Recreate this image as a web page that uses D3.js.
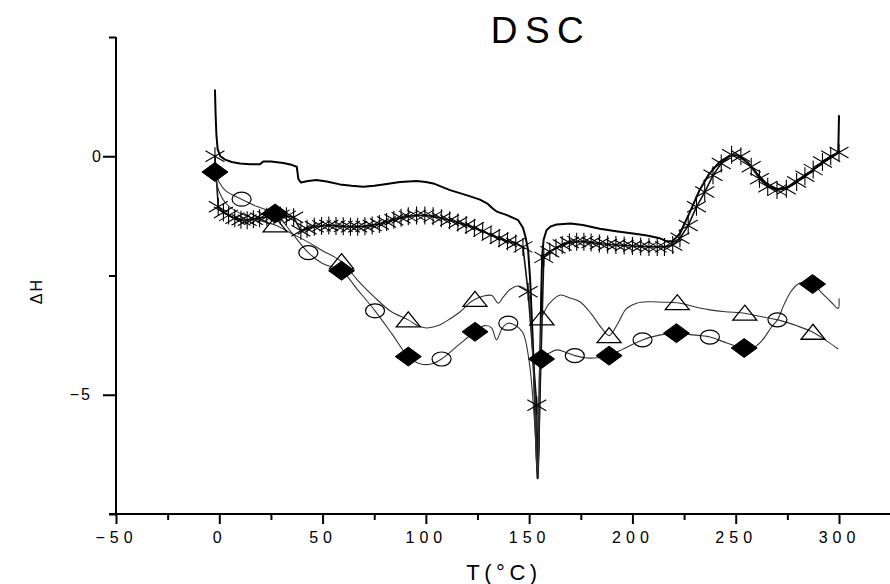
<!DOCTYPE html>
<html>
<head>
<meta charset="utf-8">
<script src="https://cdn.jsdelivr.net/npm/d3@7"></script>
<style>
  html, body { margin: 0; padding: 0; background: #fff; }
  svg { display: block; font-family: "Liberation Sans", Arial, sans-serif; }
</style>
</head>
<body>
<svg id="chart" width="890" height="584"></svg>
<script>
// ---- axis ticks ----
const xMajorTicks = [-50, 0, 50, 100, 150, 200, 250, 300];
const xMinorTicks = [-25, 25, 75, 125, 175, 225, 275, 325];
const yMajorTicks = [0, -5];
const yMinorTicks = [2.5, -2.5, -7.5];

// ---- plain DSC trace (no symbols) ----
const plainTrace = [
  [-2.1,1.4],[-1.8,0.9],[-1.4,0.45],[-0.8,0.15],[0.5,0.0],[2.8,-0.07],[6,-0.12],[10,-0.15],
  [15,-0.17],[19.7,-0.17],[21.3,-0.11],[25,-0.11],[31,-0.14],[35,-0.18],[37.5,-0.22],[38.3,-0.48],
  [39.5,-0.55],[43,-0.52],[47,-0.5],[52,-0.53],[58.4,-0.59],[64,-0.62],[69.7,-0.64],[75,-0.62],
  [79.4,-0.59],[87.5,-0.54],[95.5,-0.52],[100,-0.54],[103.6,-0.57],[111.7,-0.71],[120,-0.82],
  [126.2,-0.91],[130,-1.0],[132.5,-1.1],[134.3,-1.16],[139,-1.23],[144.7,-1.34],[147,-1.5],
  [148.3,-1.7],[149.5,-1.97],[150.5,-2.6],[151.7,-3.8],[152.8,-5.2],[153.6,-6.3],[154.1,-6.75],
  [154.6,-6.2],[155.2,-4.6],[155.8,-3.0],[156.3,-2.1],[157,-1.75],[158.4,-1.55],[160.5,-1.47],
  [163.3,-1.43],[170,-1.41],[176,-1.44],[184.2,-1.52],[192,-1.57],[200.3,-1.62],[207,-1.66],
  [213.3,-1.72],[216.5,-1.78],[219.5,-1.78],[223,-1.62],[227.8,-1.17],[232.6,-0.7],[237,-0.38],
  [242,-0.13],[247,0.01],[251,0.02],[256,-0.14],[260,-0.35],[265,-0.58],[270,-0.69],[275,-0.65],
  [280,-0.5],[286,-0.33],[292,-0.14],[296,-0.03],[299.6,0.07],[299.8,0.4],[300,0.86]
];

// ---- star series: symbols, plus the bottom of the melting dip ----
const starPoints = [
  [-2.1,0],[-0.5,-1.06],[2,-1.18],[4.5,-1.24],[7.5,-1.3],[10.5,-1.33],[13.5,-1.34],[16.5,-1.32],
  [19.5,-1.3],[23,-1.27],[26.5,-1.24],[29.5,-1.24],[32.5,-1.26],[36,-1.28],[39.5,-1.56],[42.5,-1.52],
  [46,-1.48],[49.5,-1.46],[53,-1.45],[56.5,-1.46],[60,-1.47],[63.5,-1.48],[67,-1.48],[70.5,-1.47],
  [74,-1.45],[77.5,-1.42],[81,-1.38],[84.5,-1.33],[88,-1.29],[91.5,-1.26],[95.5,-1.24],[99.5,-1.24],
  [103.5,-1.26],[107.5,-1.3],[111.5,-1.34],[115.5,-1.39],[119.5,-1.44],[123.5,-1.5],[127.5,-1.57],
  [131.5,-1.65],[135.5,-1.72],[139.5,-1.78],[143.5,-1.83],[147,-1.9],[149.5,-2.84],[153.7,-5.22],
  [157.1,-2.12],[160,-2.0],[163,-1.92],[166,-1.86],[169.5,-1.81],[173,-1.79],[176.5,-1.79],
  [180,-1.81],[184,-1.83],[188,-1.85],[192,-1.86],[196,-1.87],[200,-1.88],[204,-1.89],[208,-1.9],
  [212,-1.9],[215.5,-1.9],[219.5,-1.86],[223,-1.72],[227,-1.45],[231,-1.06],[235,-0.75],[239,-0.4],
  [243,-0.15],[248,0.03],[252.5,0.0],[257.5,-0.22],[261.5,-0.47],[265.5,-0.64],[270,-0.71],
  [274.5,-0.68],[279.5,-0.54],[283.5,-0.42],[287.5,-0.28],[292,-0.12],[296,0.0],[300,0.08]
];
const starDip = [[154.15,-6.72]];

// ---- triangle series ----
const trianglePoints = [
  [27,-1.44],[59.2,-2.21],[91.5,-3.43],[123.8,-3.0],[156.2,-3.39],[188.7,-3.76],
  [221.7,-3.07],[254.4,-3.29],[287.4,-3.69]
];
const triangleTrace = [
  [-2.1,-0.38],[0,-0.75],[3,-0.98],[8,-1.15],[15,-1.28],[21,-1.37],[27,-1.44],[35,-1.62],[43,-1.8],
  [50,-1.98],[59.2,-2.21],[67,-2.6],[75,-2.95],[83,-3.25],[91.5,-3.43],[96,-3.55],[100.3,-3.6],
  [106,-3.55],[112,-3.4],[116.6,-3.26],[121,-3.08],[123.8,-3.0],[128,-2.93],[132,-2.92],[135,-3.08],
  [137.5,-2.95],[140.6,-2.8],[144.5,-2.72],[147.5,-2.76],[149.5,-2.84],[151,-3.6],[152.8,-5.2],
  [154.1,-6.7],[154.8,-5.0],[155.6,-3.8],[156.2,-3.39],[158,-3.2],[160.1,-3.07],[165,-2.91],
  [169.7,-2.97],[174.6,-3.05],[180,-3.3],[185,-3.6],[188.7,-3.76],[193,-3.5],[197,-3.2],[202,-3.08],
  [208.4,-3.05],[215,-3.06],[221.7,-3.07],[232.6,-3.18],[237.5,-3.22],[245,-3.26],[254.4,-3.29],
  [262,-3.36],[270.5,-3.43],[280,-3.56],[287.4,-3.69],[294,-3.87],[299.6,-4.04]
];

// ---- diamond / circle series ----
const diamondPoints = [
  [-2.1,-0.33],[27,-1.2],[59.2,-2.4],[91.5,-4.2],[123.8,-3.68],[156,-4.25],[188.7,-4.18],
  [221.3,-3.71],[254.1,-4.02],[287.2,-2.68]
];
const circlePoints = [
  [10.8,-0.9],[43.1,-2.02],[75.4,-3.24],[107.6,-4.25],[139.9,-3.5],[172.1,-4.18],[204.9,-3.85],
  [237.5,-3.79],[270.2,-3.43]
];
const diamondTrace = [
  [-2.1,-0.33],[0,-0.55],[3,-0.72],[10.8,-0.9],[18,-1.05],[27,-1.2],[35,-1.6],[43.1,-2.02],[50,-2.25],
  [59.2,-2.4],[67,-2.8],[75.4,-3.24],[84,-3.75],[91.5,-4.2],[98,-4.36],[103,-4.35],[107.6,-4.25],
  [116,-3.95],[123.8,-3.68],[128.5,-3.55],[131.8,-3.6],[134.2,-3.85],[137,-3.6],[139.9,-3.5],
  [143.5,-3.55],[147,-3.7],[150,-4.3],[152.5,-5.5],[154.1,-6.7],[155,-5.2],[156,-4.25],[160,-4.12],
  [163.3,-4.06],[167,-4.1],[172.1,-4.18],[178,-4.23],[184,-4.22],[188.7,-4.18],[196,-4.03],
  [204.9,-3.85],[213,-3.75],[221.3,-3.71],[228,-3.74],[237.5,-3.79],[246,-3.92],[254.1,-4.02],
  [259,-4.0],[263,-3.85],[267,-3.6],[270.2,-3.43],[273.5,-3.1],[277,-2.82],[281,-2.66],[287.2,-2.68],
  [292,-2.88],[296,-3.05],[299.6,-3.19],[300,-2.98]
];

// ---- layout ----
const svg = d3.select("#chart");
const x = d3.scaleLinear().domain([-50, 300]).range([116, 839]);
const y = d3.scaleLinear().domain([-7.5, 2.5]).range([514, 37]);

// ---- axes ----
const xAxis = svg.append("g").attr("transform", `translate(0,${y(-7.5)})`)
  .call(d3.axisBottom(x).tickValues(xMajorTicks).tickSize(10).tickPadding(8));
xAxis.select(".domain").remove();
xAxis.selectAll(".tick line").attr("stroke", "#000").attr("stroke-width", 2);
xAxis.selectAll(".tick text")
  .attr("font-size", 16).attr("letter-spacing", "5px").attr("fill", "#000")
  .attr("font-family", "Liberation Sans, Arial, sans-serif");

const xMinor = svg.append("g").attr("transform", `translate(0,${y(-7.5)})`)
  .call(d3.axisBottom(x).tickValues(xMinorTicks).tickSize(6).tickFormat(""));
xMinor.select(".domain").remove();
xMinor.selectAll(".tick line").attr("stroke", "#000").attr("stroke-width", 2);

const yAxis = svg.append("g").attr("transform", `translate(${x(-50)},0)`)
  .call(d3.axisLeft(y).tickValues(yMajorTicks).tickSize(13).tickPadding(3));
yAxis.select(".domain").remove();
yAxis.selectAll(".tick line").attr("stroke", "#000").attr("stroke-width", 2);
yAxis.selectAll(".tick text")
  .attr("font-size", 16).attr("letter-spacing", "2px").attr("fill", "#000")
  .attr("font-family", "Liberation Sans, Arial, sans-serif")
  .attr("x", d => d < 0 ? -24 : -13);

const yMinor = svg.append("g").attr("transform", `translate(${x(-50)},0)`)
  .call(d3.axisLeft(y).tickValues(yMinorTicks).tickSize(7).tickFormat(""));
yMinor.select(".domain").remove();
yMinor.selectAll(".tick line").attr("stroke", "#000").attr("stroke-width", 2);

// axis lines
svg.append("line").attr("x1", x(-50)).attr("x2", x(-50)).attr("y1", y(2.5)).attr("y2", y(-7.5))
  .attr("stroke", "#000").attr("stroke-width", 2);
svg.append("line").attr("x1", x(-50) - 7).attr("x2", 890).attr("y1", y(-7.5)).attr("y2", y(-7.5))
  .attr("stroke", "#000").attr("stroke-width", 2);

// ---- titles ----
svg.append("text").attr("x", 541).attr("y", 43).attr("text-anchor", "middle")
  .attr("font-size", 37).attr("letter-spacing", "7.5px").text("DSC");
svg.append("text").attr("x", 504).attr("y", 580).attr("text-anchor", "middle")
  .attr("font-size", 22).attr("letter-spacing", "4.5px").text("T(°C)");
svg.append("text").attr("transform", "translate(42,291) rotate(-90)").attr("text-anchor", "middle")
  .attr("font-size", 16).attr("letter-spacing", "2px").text("ΔH");

// ---- curves ----
const plot = svg.append("g");
const linear = d3.line().x(d => x(d[0])).y(d => y(d[1]));
const smooth = d3.line().x(d => x(d[0])).y(d => y(d[1])).curve(d3.curveCatmullRom.alpha(0.5));

plot.append("path").attr("d", linear(plainTrace))
  .attr("fill", "none").attr("stroke", "#000").attr("stroke-width", 2).attr("stroke-linejoin", "round");

const starTrace = starPoints.concat(starDip).sort((a, b) => a[0] - b[0]);
plot.append("path").attr("d", linear(starTrace))
  .attr("fill", "none").attr("stroke", "#111").attr("stroke-width", 1.6).attr("stroke-linejoin", "round");

plot.append("path").attr("d", smooth(triangleTrace))
  .attr("fill", "none").attr("stroke", "#333").attr("stroke-width", 1.1);

plot.append("path").attr("d", smooth(diamondTrace))
  .attr("fill", "none").attr("stroke", "#333").attr("stroke-width", 1.1);

// ---- symbols ----
// asterisk: vertical stroke and two diagonals
const starPath = "M0,-9L0,9M-9.5,-5.5L9.5,5.5M-9.5,5.5L9.5,-5.5";
plot.append("g").selectAll("path").data(starPoints).join("path")
  .attr("transform", d => `translate(${x(d[0])},${y(d[1])})`)
  .attr("d", starPath).attr("fill", "none").attr("stroke", "#000").attr("stroke-width", 1.1);

plot.append("g").selectAll("path").data(trianglePoints).join("path")
  .attr("transform", d => `translate(${x(d[0])},${y(d[1])})`)
  .attr("d", "M0,-8L12,7L-12,7Z").attr("fill", "none").attr("stroke", "#000").attr("stroke-width", 1.3);

plot.append("g").selectAll("ellipse").data(circlePoints).join("ellipse")
  .attr("cx", d => x(d[0])).attr("cy", d => y(d[1])).attr("rx", 9.5).attr("ry", 7)
  .attr("fill", "none").attr("stroke", "#000").attr("stroke-width", 1.2);

plot.append("g").selectAll("path").data(diamondPoints).join("path")
  .attr("transform", d => `translate(${x(d[0])},${y(d[1])})`)
  .attr("d", "M0,-9.5L13,0L0,9.5L-13,0Z").attr("fill", "#000").attr("stroke", "#000").attr("stroke-width", 1);
</script>
</body>
</html>
